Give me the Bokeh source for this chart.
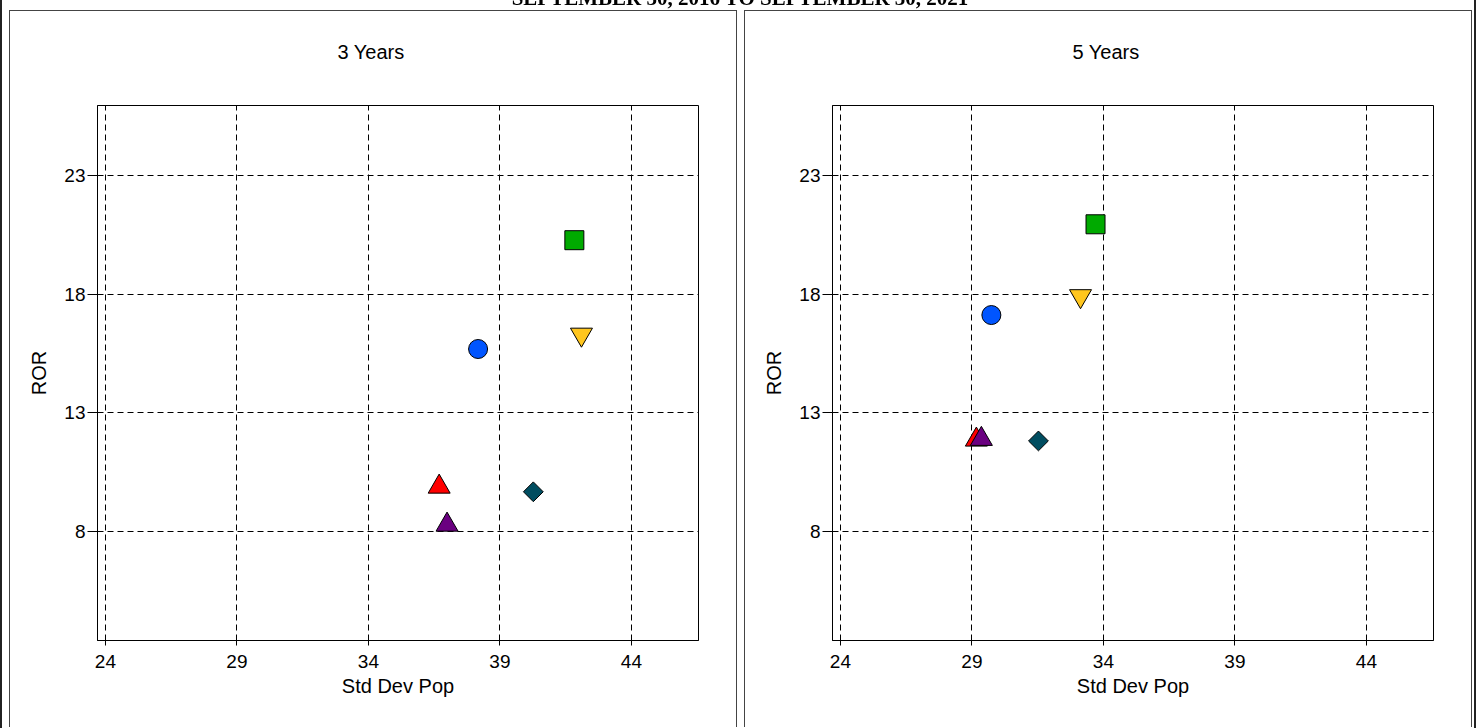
import math
from bokeh.plotting import figure
from bokeh.models import Div, FixedTicker, Range1d, Title
from bokeh.layouts import row, column
from bokeh.embed import file_html
from bokeh.resources import INLINE

# ---- data ----
series = ["Series 1", "Series 2", "Series 3", "Series 4", "Series 5", "Series 6"]
markers = ["circle", "square", "inverted_triangle", "triangle", "triangle", "square"]
colors = ["#0055FF", "#00AA00", "#FFC61E", "#FF0000", "#6A0080", "#004D60"]
sizes = [19, 19, 22, 22, 22, 14]
angles = [0, 0, 0, 0, 0, math.pi / 4]

std_3y = [38.17, 41.83, 42.10, 36.69, 36.99, 40.27]
ror_3y = [15.69, 20.27, 16.30, 9.89, 8.29, 9.68]

std_5y = [29.74, 33.70, 33.13, 29.17, 29.36, 31.53]
ror_5y = [17.12, 20.94, 17.92, 11.87, 11.90, 11.82]

x_ticks = [24, 29, 34, 39, 44]
y_ticks = [8, 13, 18, 23]
panel_titles = ["3 Years", "5 Years"]
main_title = "SEPTEMBER 30, 2016 TO SEPTEMBER 30, 2021"
x_label = "Std Dev Pop"
y_label = "ROR"

FONT = "Liberation Sans"


def make_panel(title, xs, ys, margin):
    p = figure(
        frame_width=599, frame_height=534,
        x_range=Range1d(23.7, 46.55), y_range=Range1d(3.42, 25.94),
        output_backend="svg", toolbar_location=None,
        min_border_left=87, min_border_right=40,
        min_border_top=94, min_border_bottom=88,
        background_fill_color="white", border_fill_color="white",
        styles={"border": "1px solid #444", "border-bottom": "none"},
        margin=margin,
    )
    p.outline_line_color = "black"
    p.outline_line_width = 1
    for ax in (p.xaxis[0], p.yaxis[0]):
        ax.axis_line_color = "black"
        ax.major_tick_line_color = "black"
        ax.minor_tick_line_color = None
        ax.major_label_text_font = FONT
        ax.major_label_text_font_size = "19px"
        ax.major_label_text_color = "black"
        ax.axis_label_text_font = FONT
        ax.axis_label_text_font_size = "20px"
        ax.axis_label_text_font_style = "normal"
        ax.axis_label_text_color = "black"
    p.xaxis.ticker = FixedTicker(ticks=x_ticks)
    p.yaxis.ticker = FixedTicker(ticks=y_ticks)
    p.xaxis.major_tick_out = 5
    p.xaxis.major_tick_in = 0
    p.xaxis.major_label_standoff = 9
    p.xaxis.axis_label = x_label
    p.xaxis.axis_label_standoff = 4
    p.yaxis.major_tick_out = 10
    p.yaxis.major_tick_in = 3
    p.yaxis.major_label_standoff = 2
    p.yaxis.axis_label = y_label
    p.yaxis.axis_label_standoff = 11
    for g in (p.xgrid[0], p.ygrid[0]):
        g.grid_line_color = "black"
        g.grid_line_dash = "6 4"
        g.grid_line_width = 1
    for i in range(len(series)):
        p.scatter([xs[i]], [ys[i]], marker=markers[i], size=sizes[i],
                  fill_color=colors[i], line_color="black", line_width=1,
                  angle=angles[i])
    # spacer between frame and panel title
    p.add_layout(Title(text=" ", text_font=FONT, text_font_size="20px",
                       standoff=19), "above")
    p.add_layout(Title(text=title, align="left", offset=240,
                       text_font=FONT, text_font_size="20px",
                       text_font_style="normal", text_color="black",
                       standoff=0), "above")
    return p


p1 = make_panel(panel_titles[0], std_3y, ror_3y, (10, 0, 0, 9))
p2 = make_panel(panel_titles[1], std_5y, ror_5y, (10, 0, 0, 7))

overlay = Div(text=(
    '<div style="position:fixed;left:0;top:-20px;width:1476px;height:900px;'
    'border:2px solid #222;pointer-events:none"></div>'
    '<div style="position:fixed;left:0;top:-14px;width:1480px;text-align:center;'
    'font:bold 21px \'Liberation Serif\';line-height:24px;color:black">'
    + main_title + '</div>'
), width=1, height=1, margin=(0, 0, 0, 0))

layout = column(row(p1, p2, spacing=0), overlay, spacing=0)

html = file_html(layout, INLINE)
open("out.html", "w").write(html)
